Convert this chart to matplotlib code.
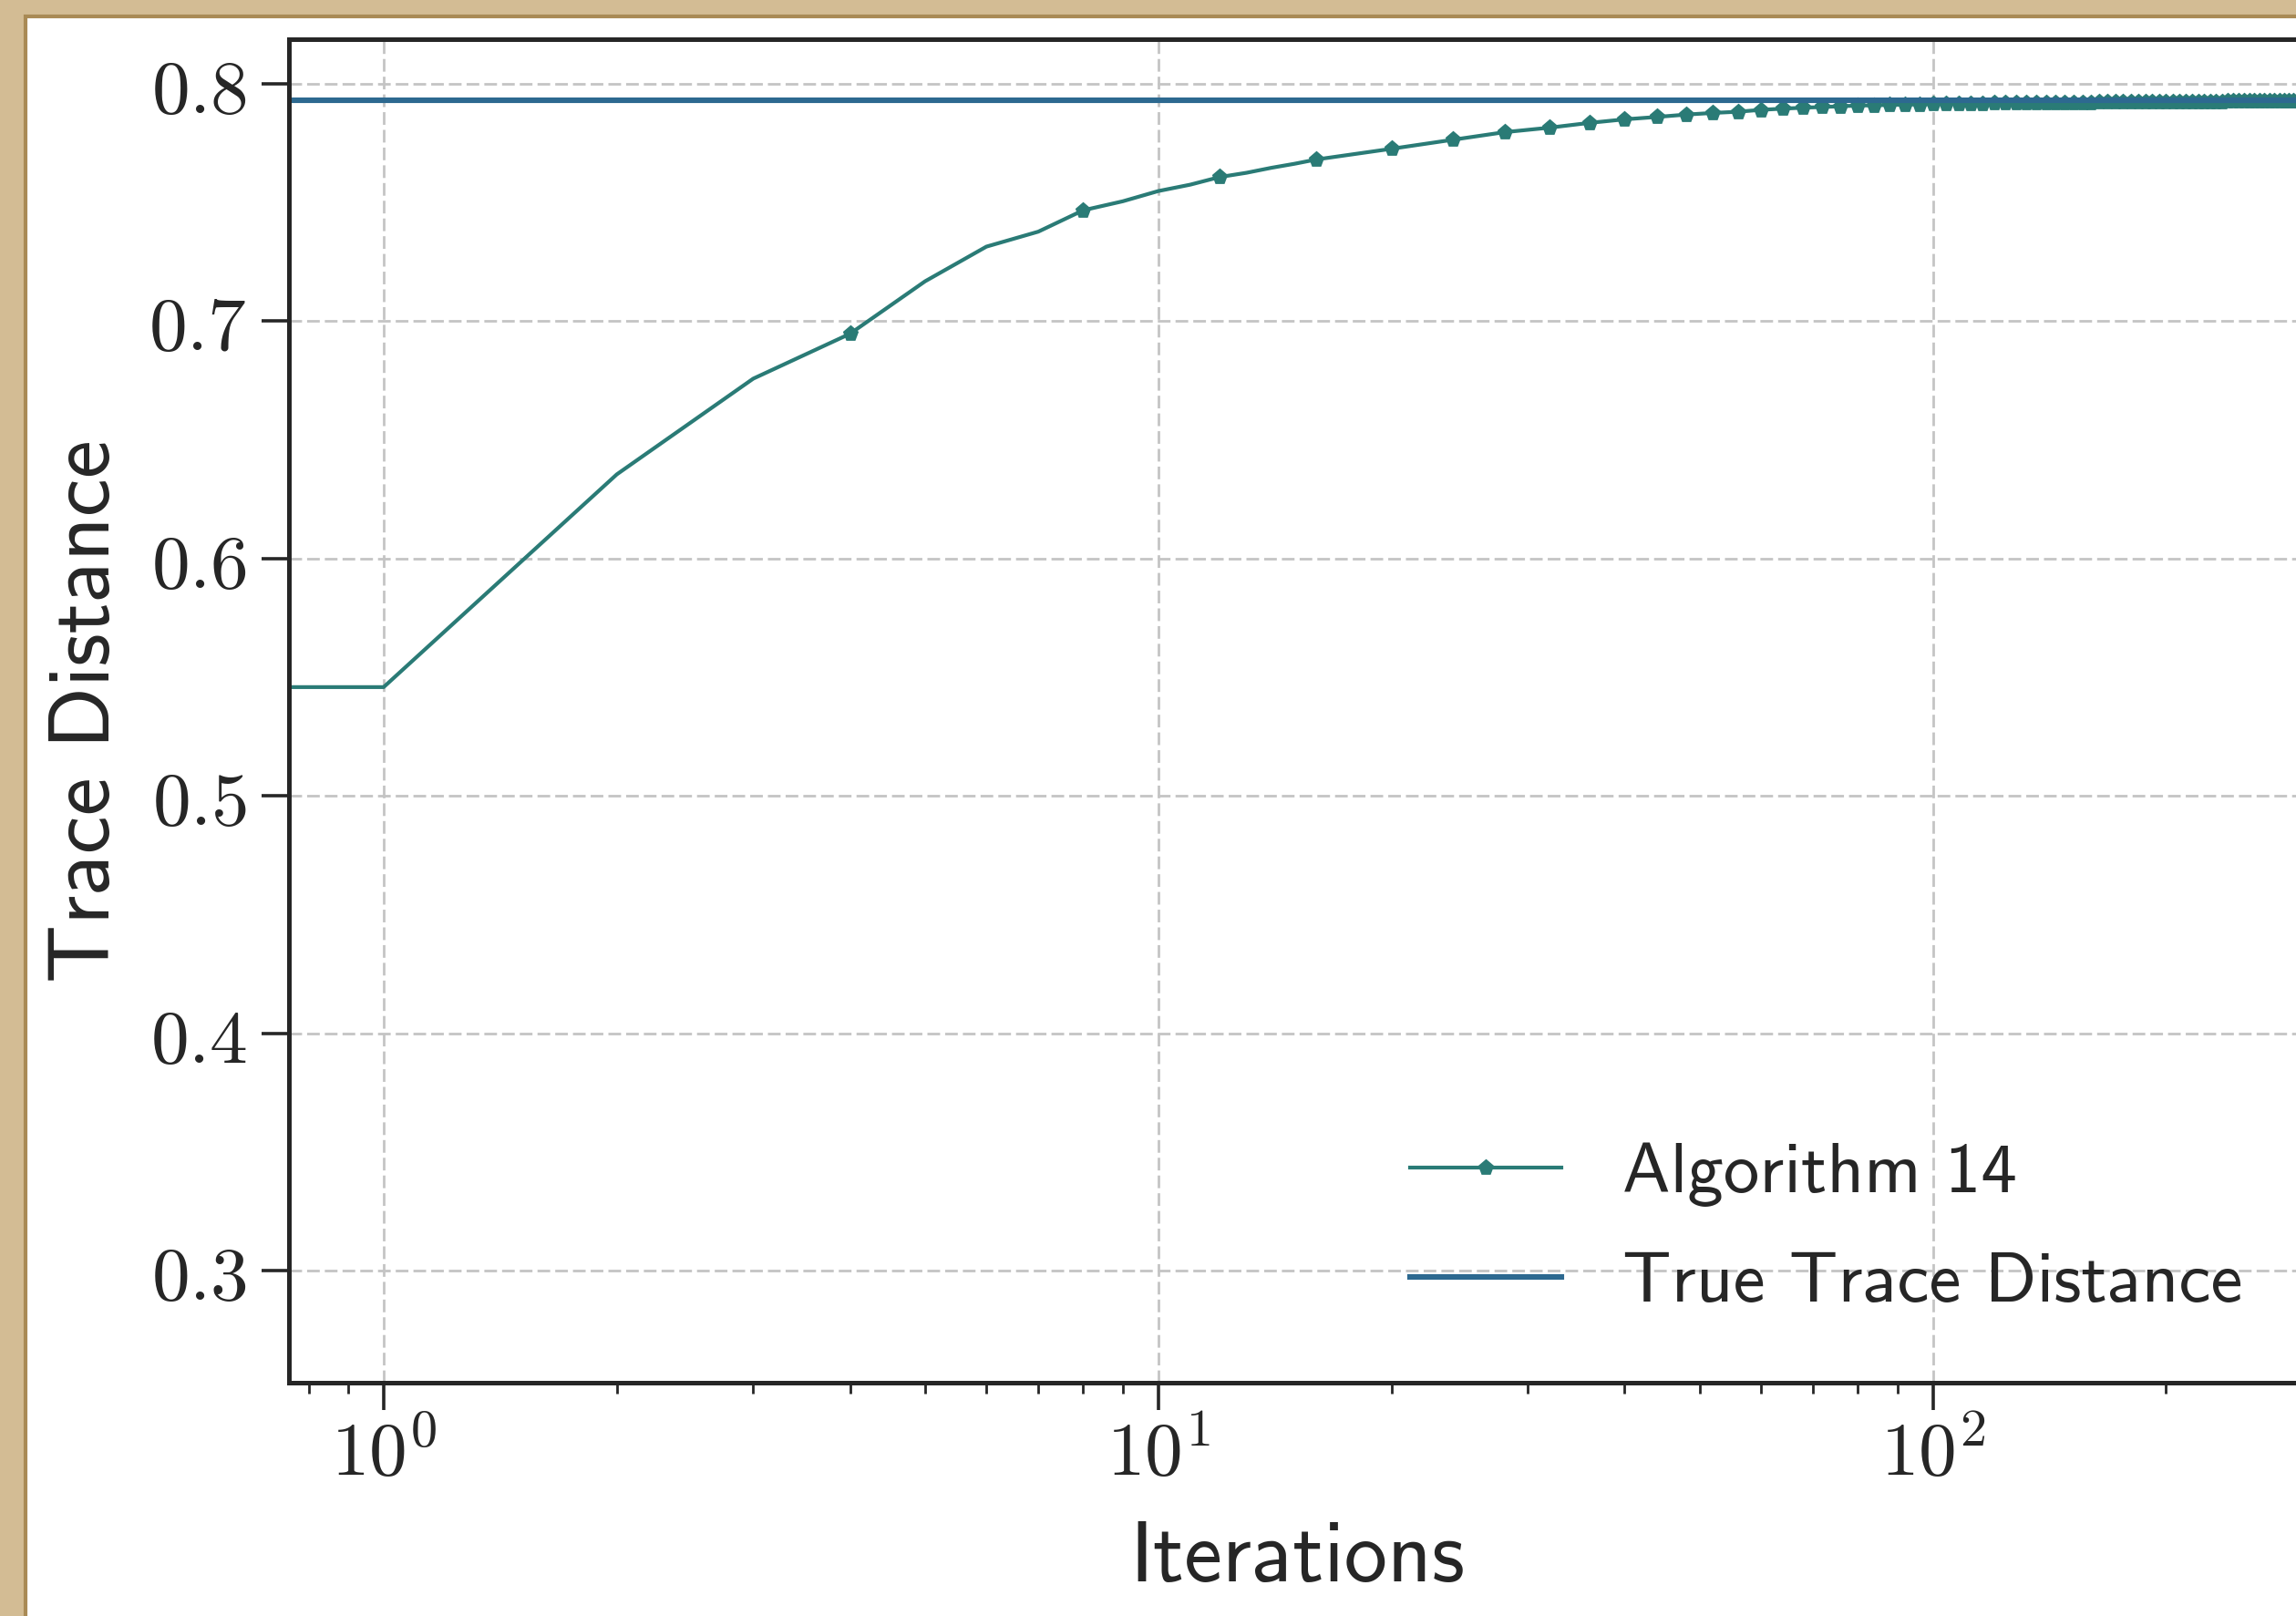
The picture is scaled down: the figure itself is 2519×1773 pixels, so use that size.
import numpy as np
import matplotlib
matplotlib.use("Agg")
import matplotlib.pyplot as plt
from matplotlib.patches import Rectangle
from matplotlib.ticker import FuncFormatter

# Data
iterations = list(range(0, 17)) + list(range(20, 305, 4))
trace_alg14 = [
    0.5458, 0.5458, 0.6354, 0.6757, 0.6946, 0.7167, 0.7313, 0.7376, 0.7466,
    0.7504, 0.7547, 0.7574, 0.7606, 0.7624, 0.7645, 0.7662, 0.7680,
    0.7725, 0.7763, 0.7795, 0.7814, 0.7834, 0.7849, 0.7859, 0.7869, 0.7876,
    0.7881, 0.7889, 0.7894, 0.7898, 0.7901, 0.7904, 0.7907, 0.7908, 0.7910,
    0.7911, 0.7912, 0.7913, 0.7914, 0.7914, 0.7915, 0.7915, 0.7916, 0.7916,
    0.7917, 0.7917, 0.7917, 0.7918, 0.7918, 0.7918, 0.7919, 0.7919, 0.7919,
    0.7920, 0.7920, 0.7920, 0.7920, 0.7921, 0.7921, 0.7921, 0.7921, 0.7922,
    0.7922, 0.7922, 0.7922, 0.7922, 0.7922, 0.7923, 0.7923, 0.7923, 0.7923,
    0.7923, 0.7924, 0.7924, 0.7924, 0.7924, 0.7924, 0.7924, 0.7925, 0.7925,
    0.7925, 0.7925, 0.7925, 0.7925, 0.7926, 0.7926, 0.7926, 0.7926, 0.7926,
]
true_trace = 0.7930
labels = ['Algorithm 14', 'True Trace Distance']

plt.rcParams['mathtext.fontset'] = 'cm'
dark = '#262626'

W, H = 2519, 1773
fig = plt.figure(figsize=(W / 200, H / 200), dpi=200)
fig.patch.set_facecolor('#d3bc94')
# white paper, parchment strip only on left and top
fig.add_artist(Rectangle((28 / W, -0.1), 1.2, 1.1 - 18 / H, transform=fig.transFigure,
                         facecolor='white', edgecolor='#a98a55', linewidth=1.5, zorder=-10))

ax = fig.add_axes([316.5 / W, 1 - 1516.7 / H, (2531 - 316.5) / W, (1516.7 - 43.4) / H])

markers = [i for i, it in enumerate(iterations) if it % 4 == 0]
ax.plot(iterations, trace_alg14, color='#2a7b76', linewidth=1.5, marker='p',
        markersize=5.5, markevery=markers, label=labels[0])
ax.axhline(true_trace, color='#2d6990', linewidth=2.2, label=labels[1])

ax.set_xscale('log')
ax.set_xlim(0.7536, 304)
ax.set_ylim(0.253, 0.8185)
ax.set_yticks([0.3, 0.4, 0.5, 0.6, 0.7, 0.8])
ax.yaxis.set_major_formatter(FuncFormatter(lambda v, p: f'${v:.1f}$'))
ax.xaxis.set_major_formatter(FuncFormatter(lambda v, p: f'$10^{{{int(round(np.log10(v)))}}}$'))

ax.grid(True, which='major', color='#c4c4c4', linestyle=(0, (5, 2)), linewidth=1.0)
for s in ax.spines.values():
    s.set_linewidth(1.8)
    s.set_color(dark)
ax.tick_params(which='major', length=10.8, width=1.3, color=dark, labelcolor=dark, labelsize=30)
ax.tick_params(which='minor', length=4.3, width=1.0, color=dark)
ax.tick_params(axis='y', pad=5.7)
ax.tick_params(axis='x', pad=3)

ax.set_xlabel('Iterations', family='cmss10', fontsize=34, color=dark, labelpad=12)
ax.set_ylabel('Trace Distance', family='cmss10', fontsize=34, color=dark, labelpad=9)

ax.legend(loc='upper left', bbox_to_anchor=(1547 / W, 1 - 1253 / H), bbox_transform=fig.transFigure,
          frameon=False, prop={'family': 'cmss10', 'size': 28.4}, handlelength=2.1,
          handletextpad=0.85, borderpad=0, borderaxespad=0, labelspacing=0.62,
          labelcolor=dark)

fig.savefig('out.png', dpi=200, facecolor=fig.get_facecolor())
